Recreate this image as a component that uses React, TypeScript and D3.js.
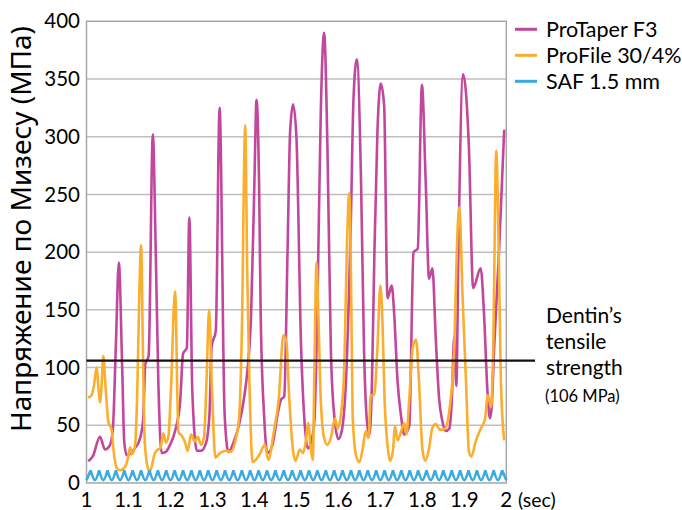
import React, { useEffect, useRef } from 'react';
import * as d3 from 'd3';

// axes
const xTicks = [1, 1.1, 1.2, 1.3, 1.4, 1.5, 1.6, 1.7, 1.8, 1.9, 2];
const xTickLabels = ['1', '1.1', '1.2', '1.3', '1.4', '1.5', '1.6', '1.7', '1.8', '1.9', '2'];
const yTicks = [0, 50, 100, 150, 200, 250, 300, 350, 400];

const seriesNames = ['ProTaper F3', 'ProFile 30/4%', 'SAF 1.5 mm'];
const seriesColors = ['#C2479C', '#FBAE2D', '#3AAAE1'];
const dentinStrength = 106;

// [time (sec), von Mises stress (MPa)]
const proTaperF3: [number, number][] = [
  [1.004, 19], [1.015, 23], [1.032, 40], [1.044, 29], [1.056, 33], [1.063, 48], [1.070, 120],
  [1.077, 191], [1.085, 100], [1.090, 35], [1.096, 24], [1.106, 26], [1.115, 30], [1.127, 38],
  [1.135, 55], [1.140, 103], [1.148, 110], [1.158, 302], [1.165, 200], [1.171, 90], [1.179, 26],
  [1.189, 27], [1.199, 33], [1.211, 45], [1.223, 70], [1.230, 112], [1.239, 117], [1.245, 230],
  [1.252, 80], [1.263, 28], [1.273, 28], [1.285, 35], [1.293, 60], [1.298, 118], [1.308, 132],
  [1.317, 325], [1.329, 60], [1.338, 27], [1.351, 36], [1.363, 50], [1.375, 73], [1.384, 100],
  [1.392, 145], [1.400, 261], [1.405, 332], [1.411, 261], [1.415, 145], [1.423, 59], [1.431, 26],
  [1.443, 33], [1.455, 59], [1.463, 72], [1.471, 75], [1.479, 203], [1.485, 304], [1.492, 328],
  [1.500, 300], [1.511, 120], [1.519, 55], [1.527, 30], [1.535, 35], [1.543, 55], [1.551, 175],
  [1.558, 320], [1.566, 390], [1.574, 290], [1.582, 117], [1.590, 59], [1.600, 38], [1.608, 45],
  [1.618, 88], [1.630, 232], [1.636, 333], [1.644, 367], [1.654, 261], [1.661, 117], [1.669, 50],
  [1.674, 42], [1.680, 88], [1.686, 203], [1.693, 304], [1.701, 346], [1.709, 327], [1.717, 160],
  [1.727, 171], [1.733, 146], [1.741, 88], [1.749, 59], [1.757, 42], [1.769, 50], [1.779, 200],
  [1.789, 203], [1.799, 345], [1.808, 261], [1.816, 177], [1.824, 186], [1.832, 125], [1.840, 73],
  [1.848, 53], [1.856, 45], [1.864, 47], [1.870, 70], [1.876, 127], [1.881, 84], [1.886, 203],
  [1.897, 354], [1.911, 290], [1.921, 169], [1.939, 186], [1.947, 146], [1.955, 80], [1.961, 56],
  [1.965, 65], [1.971, 117], [1.983, 203], [1.995, 306],
];

const proFile: [number, number][] = [
  [1.004, 74], [1.012, 76], [1.018, 85], [1.024, 100], [1.029, 80], [1.032, 70], [1.036, 85],
  [1.040, 110], [1.046, 80], [1.052, 53], [1.060, 46], [1.064, 30], [1.072, 13], [1.080, 11],
  [1.092, 14], [1.099, 22], [1.104, 31], [1.108, 25], [1.115, 31], [1.121, 80], [1.125, 150],
  [1.130, 206], [1.135, 100], [1.139, 34], [1.147, 12], [1.151, 10], [1.163, 26], [1.170, 29],
  [1.176, 30], [1.183, 43], [1.189, 35], [1.195, 40], [1.201, 80], [1.211, 166], [1.219, 44],
  [1.227, 41], [1.235, 35], [1.241, 28], [1.249, 42], [1.258, 36], [1.265, 40], [1.273, 33],
  [1.280, 40], [1.286, 90], [1.292, 150], [1.299, 80], [1.307, 22], [1.318, 26], [1.333, 28],
  [1.344, 27], [1.356, 39], [1.364, 59], [1.370, 130], [1.378, 310], [1.383, 180], [1.388, 88],
  [1.396, 18], [1.411, 24], [1.425, 33], [1.433, 20], [1.446, 44], [1.458, 73], [1.469, 128],
  [1.476, 123], [1.483, 73], [1.492, 28], [1.498, 19], [1.508, 29], [1.516, 26], [1.523, 38],
  [1.528, 52], [1.534, 31], [1.539, 20], [1.543, 100], [1.548, 191], [1.552, 150], [1.558, 73],
  [1.566, 39], [1.574, 33], [1.582, 39], [1.592, 56], [1.598, 47], [1.606, 59], [1.614, 100],
  [1.620, 200], [1.626, 251], [1.630, 180], [1.634, 59], [1.642, 24], [1.650, 18], [1.658, 30],
  [1.665, 45], [1.672, 39], [1.677, 76], [1.685, 76], [1.693, 117], [1.700, 171], [1.705, 140],
  [1.710, 73], [1.717, 33], [1.723, 19], [1.730, 28], [1.735, 49], [1.741, 37], [1.749, 44],
  [1.757, 52], [1.762, 42], [1.769, 73], [1.777, 117], [1.785, 124], [1.792, 88], [1.800, 30],
  [1.807, 19], [1.816, 30], [1.824, 48], [1.832, 51], [1.842, 46], [1.854, 47], [1.864, 62],
  [1.876, 117], [1.882, 200], [1.888, 239], [1.896, 160], [1.904, 88], [1.911, 27], [1.917, 23],
  [1.927, 36], [1.939, 47], [1.949, 55], [1.956, 76], [1.964, 66], [1.969, 120], [1.976, 288],
  [1.982, 200], [1.987, 90], [1.995, 37],
];

// SAF sampled every 0.01 s from t = 1: troughs and peaks alternate
const safStart = 1;
const safStep = 0.01;
const safValues = [
  2.5, 11, 2.5, 11, 2.5, 11, 2.5, 11, 2.5, 11,
  2.5, 11, 2.5, 11, 2.5, 11, 2.5, 11, 2.5, 11,
  2.5, 11, 2.5, 11, 2.5, 11, 2.5, 11, 2.5, 11,
  2.5, 11, 2.5, 11, 2.5, 11, 2.5, 11, 2.5, 11,
  2.5, 11, 2.5, 11, 2.5, 11, 2.5, 11, 2.5, 11,
  2.5, 11, 2.5, 11, 2.5, 11, 2.5, 11, 2.5, 11,
  2.5, 11, 2.5, 11, 2.5, 11, 2.5, 11, 2.5, 11,
  2.5, 11, 2.5, 11, 2.5, 11, 2.5, 11, 2.5, 11,
  2.5, 11, 2.5, 11, 2.5, 11, 2.5, 11, 2.5, 11,
  2.5, 11, 2.5, 11, 2.5, 11, 2.5, 11, 2.5, 11,
  2.5,
];

const latin = 'Lato, "Liberation Sans", sans-serif';

const App: React.FC = () => {
  const ref = useRef<SVGSVGElement | null>(null);

  useEffect(() => {
    if (!ref.current) return;
    const svg = d3.select(ref.current);
    svg.selectAll('*').remove();

    const x = d3.scaleLinear().domain([1, 2]).range([86.5, 506.3]);
    const y = d3.scaleLinear().domain([0, 400]).range([483, 21.3]);

    // grid
    svg.append('g')
      .selectAll('line')
      .data(yTicks.slice(1, -1))
      .enter().append('line')
      .attr('x1', x(1)).attr('x2', x(2))
      .attr('y1', d => y(d)).attr('y2', d => y(d))
      .attr('stroke', '#bfbfbf').attr('stroke-width', 1.5);

    svg.append('rect')
      .attr('x', x(1)).attr('y', y(400))
      .attr('width', x(2) - x(1)).attr('height', y(0) - y(400))
      .attr('fill', 'none').attr('stroke', '#a6a6a6').attr('stroke-width', 1.5);

    // tick labels
    svg.append('g')
      .selectAll('text')
      .data(yTicks)
      .enter().append('text')
      .attr('x', 80).attr('y', d => y(d))
      .attr('dy', '0.35em')
      .attr('text-anchor', 'end')
      .style('font-family', latin).style('font-size', '20.5px')
      .text(d => String(d));

    svg.append('g')
      .selectAll('text')
      .data(xTicks)
      .enter().append('text')
      .attr('x', d => x(d)).attr('y', 506.5)
      .attr('text-anchor', 'middle')
      .style('font-family', latin).style('font-size', '20.5px')
      .text((d, i) => xTickLabels[i]);

    svg.append('text')
      .attr('x', 518).attr('y', 506.5)
      .style('font-family', latin).style('font-size', '19.5px')
      .text('(sec)');

    svg.append('text')
      .attr('transform', 'translate(31,229) rotate(-90)')
      .attr('text-anchor', 'middle')
      .style('font-family', '"Noto Sans", sans-serif').style('font-size', '28px')
      .text('Напряжение по Мизесу (МПа)');

    // series
    const line = d3.line<[number, number]>()
      .x(d => x(d[0])).y(d => y(d[1]))
      .curve(d3.curveMonotoneX);

    svg.append('path')
      .attr('d', line(proTaperF3))
      .attr('fill', 'none').attr('stroke', seriesColors[0]).attr('stroke-width', 2.6);

    svg.append('path')
      .attr('d', line(proFile))
      .attr('fill', 'none').attr('stroke', seriesColors[1]).attr('stroke-width', 2.6);

    // SAF: one scallop per trough, pointed at the peaks
    const saf: [number, number][] = safValues.map((v, i) => [safStart + i * safStep, v]);
    let safPath = '';
    for (let i = 0; i < saf.length; i += 2) {
      const seg = saf.slice(Math.max(0, i - 1), Math.min(saf.length, i + 2));
      safPath += line(seg) || '';
    }
    svg.append('path')
      .attr('d', safPath)
      .attr('fill', 'none').attr('stroke', seriesColors[2]).attr('stroke-width', 2.6)
      .attr('stroke-linejoin', 'round');

    // dentin tensile strength
    svg.append('line')
      .attr('x1', x(1)).attr('x2', 535)
      .attr('y1', y(dentinStrength)).attr('y2', y(dentinStrength))
      .attr('stroke', '#111').attr('stroke-width', 2.4);

    const note = svg.append('g').style('font-family', latin).style('font-size', '21px');
    ['Dentin\u2019s', 'tensile', 'strength'].forEach((t, i) => {
      note.append('text').attr('x', 546).attr('y', 323.3 + i * 26).text(t);
    });
    svg.append('text')
      .attr('x', 545).attr('y', 401.7)
      .style('font-family', latin).style('font-size', '16.5px')
      .text('(106 MPa)');

    // legend
    const legend = svg.append('g');
    seriesNames.forEach((name, i) => {
      const cy = 29.3 + i * 26;
      legend.append('line')
        .attr('x1', 515).attr('x2', 537).attr('y1', cy).attr('y2', cy)
        .attr('stroke', seriesColors[i]).attr('stroke-width', 3);
      legend.append('text')
        .attr('x', 546).attr('y', cy + 7.4)
        .style('font-family', latin).style('font-size', '21.5px')
        .text(name);
    });
  }, []);

  return (
    <svg ref={ref} width={682} height={510}
      style={{ position: 'absolute', left: 0, top: 0, background: '#fff' }} />
  );
};

export default App;
